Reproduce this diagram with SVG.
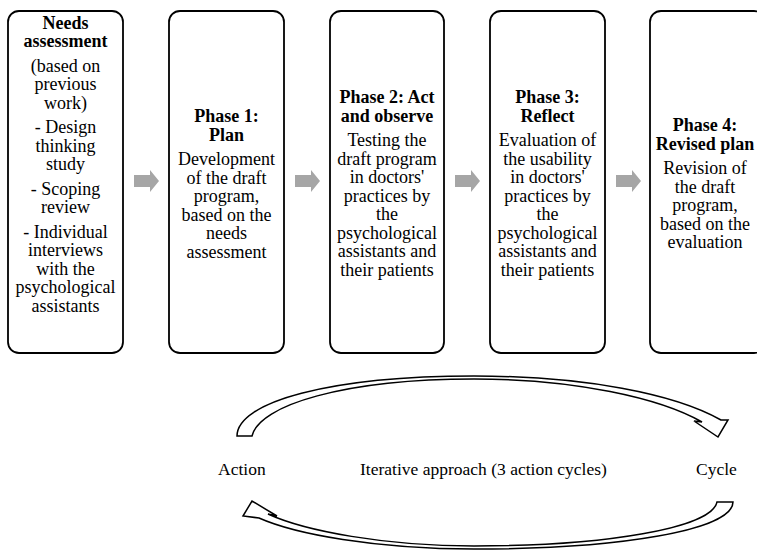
<svg xmlns="http://www.w3.org/2000/svg" width="757" height="558" viewBox="0 0 757 558">
  <style>
    .box { fill: #ffffff; stroke: #000000; stroke-width: 1.8; }
    .step { fill: #a6a6a6; stroke: none; }
    .band { fill: #ffffff; stroke: #000000; stroke-width: 1.5; stroke-linejoin: miter; }
    .t { font-family: "Liberation Serif", "Times New Roman", Times, "DejaVu Serif", serif; font-size: 18px; fill: #000000; text-anchor: middle; }
    .title { font-weight: bold; }
    .label { font-family: "Liberation Serif", "Times New Roman", Times, "DejaVu Serif", serif; font-size: 17.5px; fill: #000000; text-anchor: start; }
  </style>
  <rect width="757" height="558" fill="#ffffff"/>

  <!-- Needs assessment -->
  <g id="needs" class="t" font-family="Liberation Serif, Times New Roman, serif">
    <rect class="box" x="8" y="11" width="115" height="342" rx="11"/>
    <text x="65.5" y="28.5" class="title">Needs</text>
    <text x="65.5" y="47" class="title">assessment</text>
    <text x="65.5" y="71.5">(based on</text>
    <text x="65.5" y="90">previous</text>
    <text x="65.5" y="108.5">work)</text>
    <text x="65.5" y="133">- Design</text>
    <text x="65.5" y="151.5">thinking</text>
    <text x="65.5" y="170">study</text>
    <text x="65.5" y="194.5">- Scoping</text>
    <text x="65.5" y="213">review</text>
    <text x="65.5" y="237.5">- Individual</text>
    <text x="65.5" y="256">interviews</text>
    <text x="65.5" y="274.5">with the</text>
    <text x="65.5" y="293">psychological</text>
    <text x="65.5" y="311.5">assistants</text>
  </g>

  <!-- Phase 1 -->
  <g id="phase1" class="t" font-family="Liberation Serif, Times New Roman, serif">
    <rect class="box" x="169" y="11" width="115" height="342" rx="11"/>
    <text x="226.5" y="122" class="title">Phase 1:</text>
    <text x="226.5" y="140.5" class="title">Plan</text>
    <text x="226.5" y="165">Development</text>
    <text x="226.5" y="183.5">of the draft</text>
    <text x="226.5" y="202">program,</text>
    <text x="226.5" y="220.5">based on the</text>
    <text x="226.5" y="239">needs</text>
    <text x="226.5" y="257.5">assessment</text>
  </g>

  <!-- Phase 2 -->
  <g id="phase2" class="t" font-family="Liberation Serif, Times New Roman, serif">
    <rect class="box" x="330" y="11" width="114" height="342" rx="11"/>
    <text x="387" y="103" class="title">Phase 2: Act</text>
    <text x="387" y="121.5" class="title">and observe</text>
    <text x="387" y="146">Testing the</text>
    <text x="387" y="164.5">draft program</text>
    <text x="387" y="183">in doctors'</text>
    <text x="387" y="201.5">practices by</text>
    <text x="387" y="220">the</text>
    <text x="387" y="238.5">psychological</text>
    <text x="387" y="257">assistants and</text>
    <text x="387" y="275.5">their patients</text>
  </g>

  <!-- Phase 3 -->
  <g id="phase3" class="t" font-family="Liberation Serif, Times New Roman, serif">
    <rect class="box" x="490" y="11" width="115" height="342" rx="11"/>
    <text x="547.5" y="103" class="title">Phase 3:</text>
    <text x="547.5" y="121.5" class="title">Reflect</text>
    <text x="547.5" y="146">Evaluation of</text>
    <text x="547.5" y="164.5">the usability</text>
    <text x="547.5" y="183">in doctors'</text>
    <text x="547.5" y="201.5">practices by</text>
    <text x="547.5" y="220">the</text>
    <text x="547.5" y="238.5">psychological</text>
    <text x="547.5" y="257">assistants and</text>
    <text x="547.5" y="275.5">their patients</text>
  </g>

  <!-- Phase 4 -->
  <g id="phase4" class="t" font-family="Liberation Serif, Times New Roman, serif">
    <rect class="box" x="650" y="11" width="115" height="342" rx="11"/>
    <text x="705" y="131" class="title">Phase 4:</text>
    <text x="705" y="149.5" class="title">Revised plan</text>
    <text x="705" y="174">Revision of</text>
    <text x="705" y="192.5">the draft</text>
    <text x="705" y="211">program,</text>
    <text x="705" y="229.5">based on the</text>
    <text x="705" y="248">evaluation</text>
  </g>

  <!-- step arrows between the boxes and the cycle arrows -->
  <g id="connectors">
    <polygon class="step" points="134,175 150,175 150,170 159,181 150,192 150,187 134,187"/>
    <polygon class="step" points="295,175 311,175 311,170 320,181 311,192 311,187 295,187"/>
    <polygon class="step" points="455,175 471,175 471,170 480,181 471,192 471,187 455,187"/>
    <polygon class="step" points="616,175 632,175 632,170 641,181 632,192 632,187 616,187"/>

    <!-- upper curved arrow, left to right -->
    <path class="band" d="M237,436 C237,402 330,376 474,376 C585,376 675,394 721,420 L728,420 L718,437 L694,421 L702,422 C660,398 575,379 474,379 C345,379 259,405 252,436 Z"/>
    <!-- lower curved arrow, right to left -->
    <path class="band" d="M733,502 C733,530 620,549 474,549 C375,549 295,534 259,518 L243,516 L252,501 L277,516 L268,514 C305,531 385,546 474,546 C605,546 712,528 717,502 Z"/>
  </g>

  <g id="labels">
    <text class="label" x="218" y="475" font-family="Liberation Serif, Times New Roman, serif">Action</text>
    <text class="label" x="360" y="475" font-family="Liberation Serif, Times New Roman, serif">Iterative approach (3 action cycles)</text>
    <text class="label" x="696" y="475" font-family="Liberation Serif, Times New Roman, serif">Cycle</text>
  </g>
</svg>
